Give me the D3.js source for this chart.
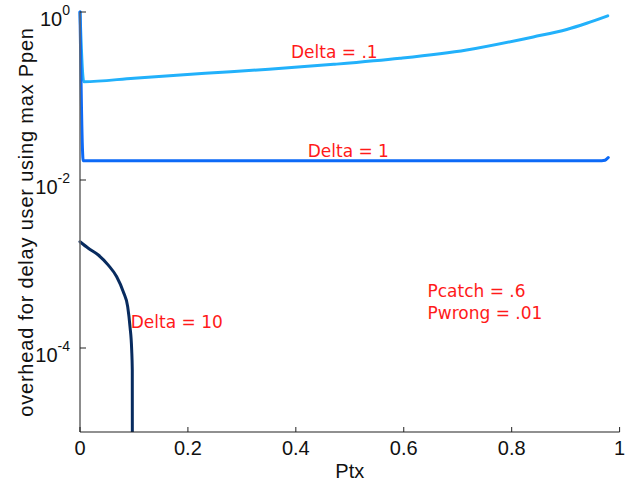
<!DOCTYPE html>
<html>
<head>
<meta charset="utf-8">
<script src="https://cdn.jsdelivr.net/npm/d3@7"></script>
<style>
  html, body { margin: 0; padding: 0; background: #fff; }
  svg { display: block; }
</style>
</head>
<body>
<svg id="chart" width="641" height="489"></svg>
<script>
// [Ptx, overhead]
const delta01 = [
  [0, 1], [0.007, 0.148], [0.1, 0.163], [0.232, 0.186], [0.35, 0.208],
  [0.47, 0.238], [0.593, 0.281], [0.7166, 0.353], [0.84, 0.505],
  [0.902, 0.62], [0.939, 0.735], [0.978, 0.9]
]
const delta1 = [
  [0, 1], [0.006, 0.017], [0.3, 0.017], [0.6, 0.017], [0.967, 0.017],
  [0.973, 0.0172], [0.979, 0.0185]
]
const delta10 = [
  [0, 0.00184], [0.0154, 0.00154], [0.034, 0.00128], [0.0524, 0.00097],
  [0.068, 0.000706], [0.0802, 0.000468], [0.0884, 0.00031], [0.0927, 0.000179],
  [0.0958, 0.0000947], [0.0969, 0.0000547], [0.0971, 0.000001]
]
const seriesColors = ['#22b1fb', '#0d6af7', '#082b5f']

const xTicks = [0, 0.2, 0.4, 0.6, 0.8, 1]
const xTickLabels = ['0', '0.2', '0.4', '0.6', '0.8', '1']
const yTicks = [1, 1e-2, 1e-4]
const yTickExponents = ['0', '-2', '-4']

// annotation text, anchored in data coords
const notes = [
  { x: 0.391, y: 0.286, text: 'Delta = .1' },
  { x: 0.422, y: 0.0187, text: 'Delta = 1' },
  { x: 0.094, y: 0.000172, text: 'Delta = 10' },
  { x: 0.644, y: 0.000408, text: 'Pcatch = .6' },
  { x: 0.644, y: 0.00022, text: 'Pwrong = .01' }
]

const width = 641
const height = 489
const margin = { top: 12, right: 21.4, bottom: 57, left: 80 }

const svg = d3.select('#chart')

const x = d3.scaleLinear().domain([0, 1]).range([margin.left, width - margin.right])
const y = d3.scaleLog().domain([1e-5, 1]).range([height - margin.bottom, margin.top])

svg.append('defs').append('clipPath').attr('id', 'plotClip')
  .append('rect')
  .attr('x', margin.left - 4)
  .attr('y', margin.top - 4)
  .attr('width', width - margin.left - margin.right + 8)
  .attr('height', height - margin.top - margin.bottom + 4)

const line = d3.line()
  .x((d) => x(d[0]))
  .y((d) => y(d[1]))
  .curve(d3.curveMonotoneX)

const plot = svg.append('g').attr('clip-path', 'url(#plotClip)')
;[delta01, delta1, delta10].forEach((s, i) => {
  plot.append('path')
    .datum(s)
    .attr('d', line)
    .attr('fill', 'none')
    .attr('stroke', seriesColors[i])
    .attr('stroke-width', 3)
    .attr('stroke-linejoin', 'round')
    .attr('stroke-linecap', 'round')
})

// axes (left and bottom only, ticks inward)
const x0 = x(0)
const yb = y(1e-5)
svg.append('line')
  .attr('x1', x0).attr('x2', x0)
  .attr('y1', y(1)).attr('y2', yb)
  .attr('stroke', '#666').attr('stroke-width', 1.5)
svg.append('line')
  .attr('x1', x0).attr('x2', x(1))
  .attr('y1', yb).attr('y2', yb)
  .attr('stroke', '#222').attr('stroke-width', 1.2)

svg.selectAll('.xtick')
  .data(xTicks)
  .join('line')
  .attr('x1', (d) => x(d)).attr('x2', (d) => x(d))
  .attr('y1', yb).attr('y2', yb - 5)
  .attr('stroke', '#222')

svg.selectAll('.xlab')
  .data(xTicks)
  .join('text')
  .attr('x', (d) => x(d))
  .attr('y', yb + 23)
  .attr('text-anchor', 'middle')
  .attr('font-family', 'Liberation Sans, Arial, sans-serif')
  .attr('font-size', 20)
  .attr('fill', '#111')
  .text((d, i) => xTickLabels[i])

svg.selectAll('.ytick')
  .data(yTicks)
  .join('line')
  .attr('x1', x0).attr('x2', x0 + 6)
  .attr('y1', (d) => y(d)).attr('y2', (d) => y(d))
  .attr('stroke', '#222')

const ylab = svg.selectAll('.ylab')
  .data(yTicks)
  .join('text')
  .attr('x', x0 - 10)
  .attr('y', (d) => y(d) + 13.5)
  .attr('text-anchor', 'end')
  .attr('font-family', 'Liberation Sans, Arial, sans-serif')
  .attr('font-size', 20)
  .attr('fill', '#111')
ylab.append('tspan').text('10')
ylab.append('tspan')
  .attr('font-size', 14)
  .attr('dy', -11)
  .text((d, i) => yTickExponents[i])

svg.append('text')
  .attr('x', (x0 + x(1)) / 2)
  .attr('y', height - 11)
  .attr('text-anchor', 'middle')
  .attr('font-family', 'Liberation Sans, Arial, sans-serif')
  .attr('font-size', 20)
  .attr('fill', '#111')
  .text('Ptx')

svg.append('text')
  .attr('transform', `translate(33, ${(margin.top + yb) / 2}) rotate(-90)`)
  .attr('text-anchor', 'middle')
  .attr('font-family', 'Liberation Sans, Arial, sans-serif')
  .attr('font-size', 20)
  .attr('letter-spacing', 0.8)
  .attr('fill', '#111')
  .text('overhead for delay user using max Ppen')

svg.selectAll('.note')
  .data(notes)
  .join('text')
  .attr('x', (d) => x(d.x))
  .attr('y', (d) => y(d.y))
  .attr('font-family', 'DejaVu Sans, sans-serif')
  .attr('font-size', 17)
  .attr('fill', '#ff1a1a')
  .text((d) => d.text)
</script>
</body>
</html>
